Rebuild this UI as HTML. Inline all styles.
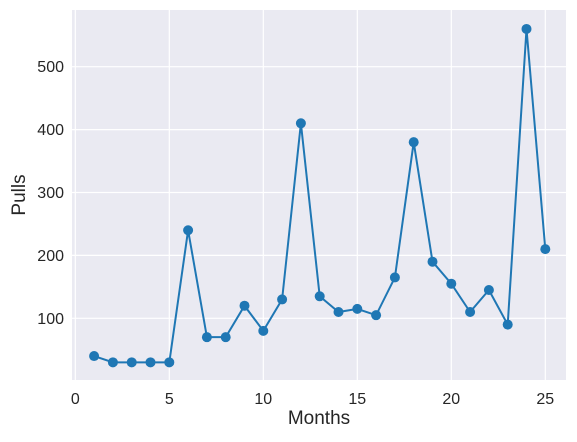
<!DOCTYPE html>
<html><head><meta charset="utf-8"><style>
body{margin:0;background:#fff;}
text{font-family:"Liberation Sans",sans-serif;fill:#262626;}
</style></head><body>
<svg id="chart" width="577" height="437" xmlns="http://www.w3.org/2000/svg">
<rect x="72" y="10" width="494" height="370" fill="#eaeaf2"/>
<g id="grid"></g><g id="series"></g><g id="labels"></g>
<text x="319" y="424" font-size="19" text-anchor="middle">Months</text>
<text transform="translate(25,195) rotate(-90)" font-size="19" text-anchor="middle">Pulls</text>
</svg>
<script>
const months=[1,2,3,4,5,6,7,8,9,10,11,12,13,14,15,16,17,18,19,20,21,22,23,24,25];
const pulls=[40,30,30,30,30,240,70,70,120,80,130,410,135,110,115,105,165,380,190,155,110,145,90,560,210];
const xTicks=[0,5,10,15,20,25];
const yTicks=[100,200,300,400,500];
const NS="http://www.w3.org/2000/svg";
function xs(v){return 75.3+v*18.8;}
function ys(v){return 381.2-v*0.629;}
function mk(t,a,p){const e=document.createElementNS(NS,t);for(const k in a)e.setAttribute(k,a[k]);p.appendChild(e);return e;}
const g=document.getElementById('grid'),s=document.getElementById('series'),l=document.getElementById('labels');
xTicks.forEach(v=>{
 const ln=mk('line',{x1:xs(v),x2:xs(v),y1:10,y2:380,stroke:'#fff','stroke-width':1.2},g);
 
 
 const t=mk('text',{x:xs(v),y:404,'font-size':16,'text-anchor':'middle'},l);t.textContent=v;
 
 
});
yTicks.forEach(v=>{
 const ln=mk('line',{x1:72,x2:566,y1:ys(v),y2:ys(v),stroke:'#fff','stroke-width':1.2},g);
 
 
 const t=mk('text',{x:64,y:ys(v)+5.5,'font-size':16,'text-anchor':'end'},l);t.textContent=v;
 
 
});
const pl=mk('polyline',{points:months.map((m,i)=>xs(m)+','+ys(pulls[i])).join(' '),fill:'none',stroke:'#1f77b4','stroke-width':2},s);


months.forEach((m,i)=>{
 const c=mk('circle',{cx:xs(m),cy:ys(pulls[i]),r:5,fill:'#1f77b4'},s);
 
 
});
</script>
</body></html>
